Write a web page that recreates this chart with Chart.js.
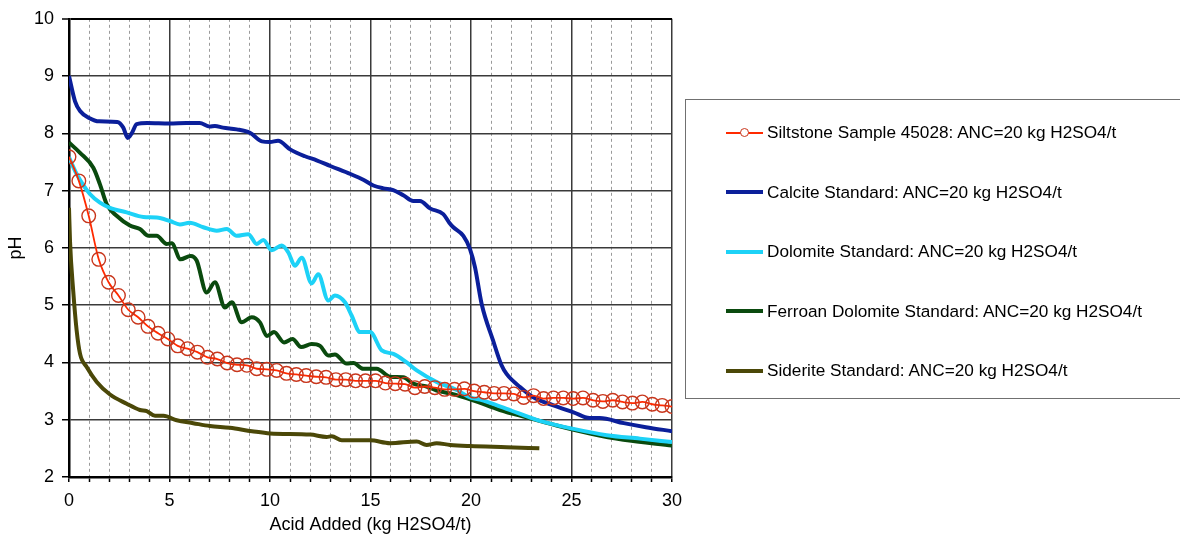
<!DOCTYPE html>
<html>
<head>
<meta charset="utf-8">
<script src="https://cdn.jsdelivr.net/npm/chart.js@4.4.1/dist/chart.umd.min.js"></script>
<style>
  body { margin: 0; background: #fff; }
  #wrap { position: relative; width: 1180px; height: 538px; overflow: hidden; }
  #legend {
    position: absolute; left: 685px; top: 99px; width: 560px; height: 300px;
    border: 1.5px solid #707070; box-sizing: border-box; padding-top: 3px;
    font: 17.2px Arial, "Liberation Sans", sans-serif; color: #000;
  }
  .item { height: 59.5px; display: flex; align-items: center; white-space: nowrap; }
  .swatch { position: relative; width: 37px; margin-left: 40px; margin-right: 4px; }
  .swatch .ln { position: absolute; left: 0; right: 0; top: 50%; }
  .swatch .pt { position: absolute; left: 50%; top: 50%; border-radius: 50%; box-sizing: border-box; background: #fff; }
</style>
</head>
<body>
<div id="wrap">
  <canvas id="chart" width="1180" height="538"></canvas>
  <div id="legend"></div>
</div>
<script>
// x tick labels every 5, minor grid every 1
const xMin = 0, xMax = 30;
const yMin = 2, yMax = 10;

// Siltstone Sample 45028 (markers)
const siltX = [0, 0.49, 0.98, 1.48, 1.97, 2.46, 2.95, 3.44, 3.93, 4.43, 4.92, 5.41, 5.90, 6.39, 6.89, 7.38,
  7.87, 8.36, 8.85, 9.34, 9.84, 10.33, 10.82, 11.31, 11.80, 12.30, 12.79, 13.28, 13.77, 14.26, 14.75, 15.25,
  15.74, 16.23, 16.72, 17.21, 17.70, 18.20, 18.69, 19.18, 19.67, 20.16, 20.66, 21.15, 21.64, 22.13, 22.62,
  23.11, 23.61, 24.10, 24.59, 25.08, 25.57, 26.07, 26.56, 27.05, 27.54, 28.03, 28.52, 29.02, 29.51, 30.0];
const siltY = [7.59, 7.17, 6.56, 5.80, 5.40, 5.17, 4.92, 4.79, 4.63, 4.51, 4.41, 4.29, 4.24, 4.18, 4.09, 4.06,
  3.99, 3.96, 3.95, 3.89, 3.88, 3.86, 3.81, 3.79, 3.77, 3.75, 3.74, 3.70, 3.70, 3.68, 3.68, 3.68,
  3.64, 3.63, 3.62, 3.56, 3.58, 3.56, 3.53, 3.53, 3.54, 3.50, 3.48, 3.46, 3.46, 3.45, 3.39,
  3.42, 3.37, 3.38, 3.38, 3.37, 3.38, 3.34, 3.32, 3.34, 3.31, 3.29, 3.31, 3.27, 3.25, 3.23];

const calciteX = [0, 0.3, 0.55, 1.0, 1.5, 2.4, 2.7, 2.92, 3.12, 3.37, 3.9, 5.0, 5.85, 6.5, 7.0, 7.26, 7.66, 8.34,
  9.0, 9.6, 10.0, 10.4, 11.0, 11.74, 12.32, 13.0, 14.0, 14.64, 15.14, 15.64, 16.13, 16.63, 17.13, 17.46, 17.96,
  18.62, 18.92, 19.12, 19.62, 19.95, 20.2, 20.53, 21.1, 21.52, 21.77, 22.44, 23.1, 24.1, 25.1, 25.9, 26.4,
  27.6, 28.7, 30];
const calciteY = [9.0, 8.56, 8.39, 8.27, 8.21, 8.2, 8.1, 7.92, 8.0, 8.16, 8.18, 8.17, 8.18, 8.18, 8.12, 8.13, 8.10, 8.07,
  8.01, 7.86, 7.85, 7.87, 7.72, 7.6, 7.53, 7.43, 7.29, 7.19, 7.09, 7.04, 7.01, 6.92, 6.82, 6.82, 6.69,
  6.59, 6.44, 6.36, 6.21, 5.98, 5.66, 5.02, 4.38, 3.95, 3.80, 3.57, 3.39, 3.25, 3.13, 3.03, 3.03,
  2.94, 2.87, 2.80];

const dolomiteX = [0, 0.38, 1.04, 1.54, 2.04, 2.87, 3.7, 4.36, 5.02, 5.52, 6.0, 6.68, 7.35, 7.85, 8.34, 8.92, 9.34,
  9.67, 10.08, 10.58, 10.91, 11.24, 11.58, 12.07, 12.4, 12.9, 13.23, 13.73, 14.06, 14.48, 14.98, 15.56, 16.14,
  16.8, 17.3, 18.29, 19.29, 19.95, 20.45, 21.77, 23.43, 25.1, 26.75, 28.4, 30];
const dolomiteY = [7.58, 7.29, 6.94, 6.79, 6.70, 6.62, 6.54, 6.53, 6.47, 6.41, 6.44, 6.36, 6.30, 6.33, 6.21, 6.24, 6.07,
  6.14, 5.96, 6.04, 5.92, 5.69, 5.83, 5.38, 5.54, 5.08, 5.17, 5.05, 4.82, 4.53, 4.53, 4.21, 4.15,
  4.00, 3.86, 3.66, 3.52, 3.39, 3.35, 3.19, 2.98, 2.84, 2.73, 2.67, 2.61];

const ferroanX = [0, 0.55, 1.21, 1.54, 1.88, 2.37, 3.03, 3.53, 3.95, 4.36, 4.86, 5.11, 5.55, 6.05, 6.35, 6.85, 7.26,
  7.76, 8.1, 8.59, 9.09, 9.5, 9.85, 10.2, 10.7, 11.12, 11.55, 12.07, 12.49, 12.9, 13.23, 13.81, 14.15, 14.64,
  15.31, 15.97, 16.63, 17.13, 17.79, 18.29, 18.96, 20.1, 21.44, 22.77, 24.26, 25.92, 27.58, 30];
const ferroanY = [7.84, 7.66, 7.40, 7.11, 6.76, 6.56, 6.39, 6.33, 6.21, 6.21, 6.07, 6.08, 5.80, 5.86, 5.78, 5.22, 5.40,
  4.96, 5.05, 4.70, 4.79, 4.70, 4.46, 4.53, 4.35, 4.41, 4.27, 4.32, 4.29, 4.12, 4.14, 3.98, 3.99, 3.89,
  3.89, 3.75, 3.74, 3.63, 3.58, 3.51, 3.46, 3.34, 3.17, 3.04, 2.90, 2.76, 2.65, 2.55];

const sideriteX = [0, 0.05, 0.21, 0.38, 0.55, 0.88, 1.38, 2.04, 2.87, 3.53, 3.87, 4.28, 4.7, 5.36, 6.18, 7.01, 8.0,
  9.1, 10, 12, 12.82, 13.07, 13.57, 14.98, 15.97, 17.3, 17.79, 18.29, 18.96, 19.95, 21.77, 23.4];
const sideriteY = [6.70, 6.12, 5.25, 4.56, 4.15, 3.92, 3.66, 3.44, 3.28, 3.17, 3.15, 3.07, 3.07, 2.99, 2.94, 2.89, 2.86,
  2.80, 2.76, 2.74, 2.70, 2.71, 2.64, 2.64, 2.59, 2.62, 2.56, 2.59, 2.56, 2.54, 2.52, 2.50];

const seriesNames = [
  'Siltstone Sample 45028: ANC=20 kg H2SO4/t',
  'Calcite Standard: ANC=20 kg H2SO4/t',
  'Dolomite Standard: ANC=20 kg H2SO4/t',
  'Ferroan Dolomite Standard: ANC=20 kg H2SO4/t',
  'Siderite Standard: ANC=20 kg H2SO4/t'
];

const pts = (xs, ys) => xs.map((x, i) => ({ x: x, y: ys[i] }));
const FONT = 'Arial, "Liberation Sans", sans-serif';

function lineSet(label, xs, ys, color) {
  return {
    label: label, data: pts(xs, ys), borderColor: color, backgroundColor: color,
    borderWidth: 4, pointRadius: 0, cubicInterpolationMode: 'monotone'
  };
}

const datasets = [
  {
    label: seriesNames[0], data: pts(siltX, siltY),
    borderColor: '#ff2a00', borderWidth: 1.8,
    pointRadius: 6.8, pointBorderColor: '#c8361c', pointBorderWidth: 1.4,
    pointBackgroundColor: 'rgba(0,0,0,0)', cubicInterpolationMode: 'monotone'
  },
  lineSet(seriesNames[1], calciteX, calciteY, '#0b1f9a'),
  lineSet(seriesNames[2], dolomiteX, dolomiteY, '#1dd2f7'),
  lineSet(seriesNames[3], ferroanX, ferroanY, '#0a4a0e'),
  lineSet(seriesNames[4], sideriteX, sideriteY, '#4b4808')
];

// legend built from the datasets
const htmlLegend = {
  id: 'htmlLegend',
  afterUpdate(chart) {
    const box = document.getElementById('legend');
    box.innerHTML = '';
    chart.data.datasets.forEach((ds) => {
      const item = document.createElement('div');
      item.className = 'item';
      const sw = document.createElement('span');
      sw.className = 'swatch';
      sw.style.height = '12px';
      const ln = document.createElement('span');
      ln.className = 'ln';
      const w = ds.borderWidth >= 3 ? 4 : 2;
      ln.style.height = w + 'px';
      ln.style.marginTop = (-w / 2) + 'px';
      ln.style.background = ds.borderColor;
      sw.appendChild(ln);
      if (ds.pointRadius) {
        const pt = document.createElement('span');
        pt.className = 'pt';
        pt.style.width = pt.style.height = '9px';
        pt.style.marginLeft = pt.style.marginTop = '-4.5px';
        pt.style.border = '1.5px solid ' + ds.pointBorderColor;
        sw.appendChild(pt);
      }
      const txt = document.createElement('span');
      txt.textContent = ds.label;
      item.appendChild(sw);
      item.appendChild(txt);
      box.appendChild(item);
    });
  }
};

new Chart(document.getElementById('chart'), {
  type: 'line',
  data: { datasets: datasets },
  plugins: [htmlLegend],
  options: {
    responsive: false,
    animation: false,
    devicePixelRatio: 1,
    layout: { padding: { top: 17, right: 508, left: 0, bottom: 0 } },
    plugins: { legend: { display: false }, tooltip: { enabled: false } },
    scales: {
      x: {
        type: 'linear', min: xMin, max: xMax,
        afterFit: (s) => { s.height = 61; },
        ticks: {
          stepSize: 1, autoSkip: false, maxRotation: 0, padding: 8,
          color: '#000', font: { family: FONT, size: 18 },
          callback: (v) => (v % 5 === 0 ? v : '')
        },
        grid: {
          color: (c) => (c.tick && c.tick.value % 5 === 0 ? '#3a3a3a' : '#9a9a9a'),
          lineWidth: (c) => (c.tick && c.tick.value % 5 === 0 ? 1.5 : 1),
          tickColor: '#000', tickLength: 5, tickWidth: 1.5
        },
        border: {
          color: '#000', width: 2.5,
          dash: (c) => (c.tick && c.tick.value % 5 !== 0 ? [3, 3] : [])
        },
        title: {
          display: true, text: 'Acid Added (kg H2SO4/t)', color: '#000',
          font: { family: FONT, size: 18 }, padding: { top: 2, bottom: 2 }
        }
      },
      y: {
        min: yMin, max: yMax,
        afterFit: (s) => { s.width = 69; },
        ticks: {
          stepSize: 1, padding: 8, color: '#000',
          font: { family: FONT, size: 18 }
        },
        grid: {
          color: (c) => (c.tick && c.tick.value === yMax ? '#000' : '#3a3a3a'),
          lineWidth: (c) => (c.tick && c.tick.value === yMax ? 2 : 1.5),
          tickColor: '#000', tickLength: 7, tickWidth: 1.5
        },
        border: { color: '#000', width: 2.5 },
        title: {
          display: true, text: 'pH', color: '#000',
          font: { family: FONT, size: 18 }, padding: { top: 5, bottom: 2 }
        }
      }
    }
  }
});
</script>
</body>
</html>
